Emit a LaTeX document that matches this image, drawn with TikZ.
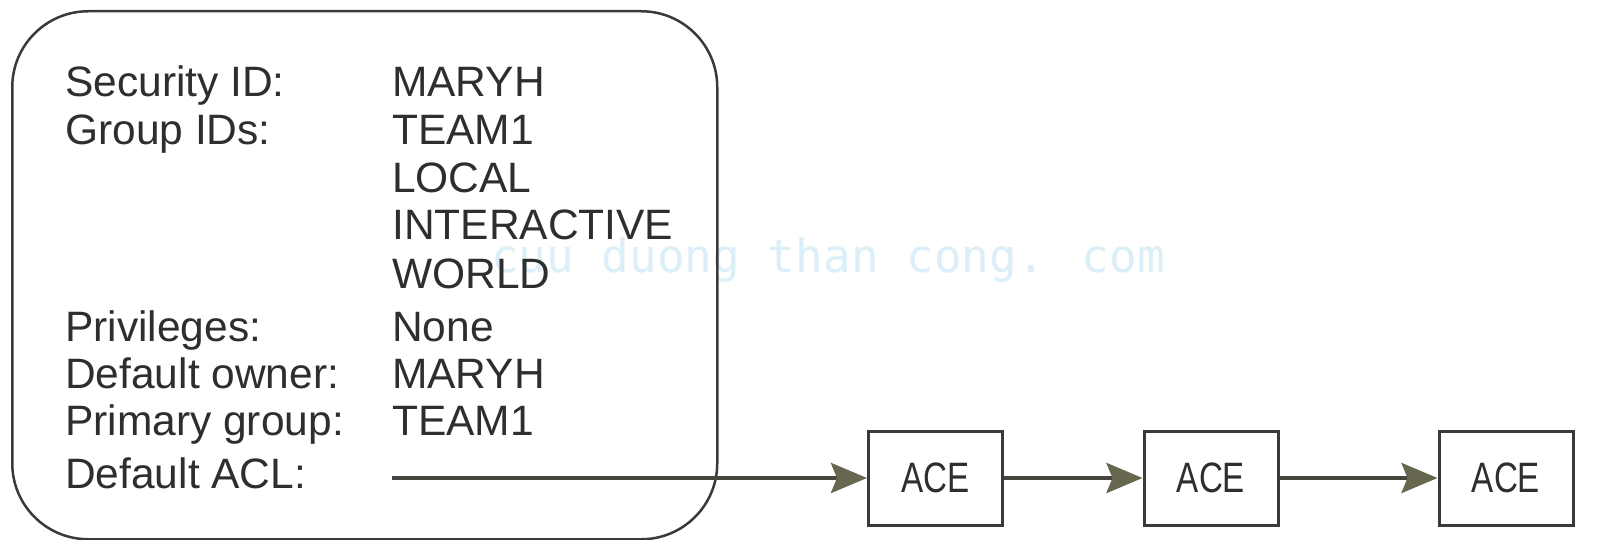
\documentclass[tikz,border=0pt]{standalone}
\usepackage{fontspec}
\setmainfont{Liberation Sans}
\newfontfamily\wmfont{DejaVu Sans Mono}
\usetikzlibrary{arrows.meta}
\definecolor{ink}{HTML}{2E2E2E}
\definecolor{frame}{HTML}{3A3A3A}
\definecolor{headfill}{HTML}{67664F}
\definecolor{shaft}{HTML}{46463E}
\definecolor{wmark}{HTML}{DCEFF8}
\tikzset{
  lbl/.style={anchor=base west, inner sep=0pt, text=ink,
    font=\fontsize{42.5}{47}\selectfont},
  token/.style={draw=frame, line width=2.5pt, rounded corners=76pt},
  ace/.style={draw=frame, line width=3pt, minimum width=134pt,
    minimum height=94pt, inner sep=0pt, text=ink,
    font=\fontsize{42.5}{47}\selectfont},
  conn/.style={draw=shaft, line width=4pt,
    -{Stealth[length=36pt, width=30pt, inset=6pt, fill=headfill, color=headfill]}},
}
% narrow setting for the entry labels
\newcommand{\narrowtext}[1]{\scalebox{0.78}[1]{#1}}
\begin{document}
\begin{tikzpicture}[x=1pt, y=-1pt]
  \useasboundingbox (0,0) rectangle (1612,540);
  \fill[white] (0,0) rectangle (1612,540);

  % faint watermark line
  \node[anchor=center, inner sep=0pt, text=wmark,
        font=\wmfont\fontsize{46}{50}\selectfont] (wm) at (828,260)
        {cuu duong than cong. com};

  % access token outline
  \node[token, minimum width=705pt, minimum height=528pt, anchor=north west]
    (token) at (11,10) {};

  % field names
  \node[lbl] (k1) at (65,97)  {Security ID:};
  \node[lbl] (k2) at (65,145) {Group IDs:};
  \node[lbl] (k3) at (65,341) {Privileges:};
  \node[lbl] (k4) at (65,388) {Default owner:};
  \node[lbl] (k5) at (65,435) {Primary group:};
  \node[lbl] (k6) at (65,488) {Default ACL:};

  % field values
  \node[lbl] (v1) at (392,97)  {MARYH};
  \node[lbl] (v2) at (392,145) {TEAM1};
  \node[lbl] (v3) at (392,193) {LOCAL};
  \node[lbl] (v4) at (392,240) {INTERACTIVE};
  \node[lbl] (v5) at (392,288) {WORLD};
  \node[lbl] (v6) at (392,341) {None};
  \node[lbl] (v7) at (392,388) {MARYH};
  \node[lbl] (v8) at (392,435) {TEAM1};

  % ACE chain
  \node[ace] (a1) at (935.5,478) {\narrowtext{ACE}};
  \node[ace] (a2) at (1211,478)  {\narrowtext{ACE}};
  \node[ace] (a3) at (1506,478)  {\narrowtext{ACE}};

  \coordinate (acl) at (392,478);
  \draw[conn] (acl) -- (a1.west);
  \draw[conn] (a1.east) -- (a2.west);
  \draw[conn] (a2.east) -- (a3.west);
\end{tikzpicture}
\end{document}
